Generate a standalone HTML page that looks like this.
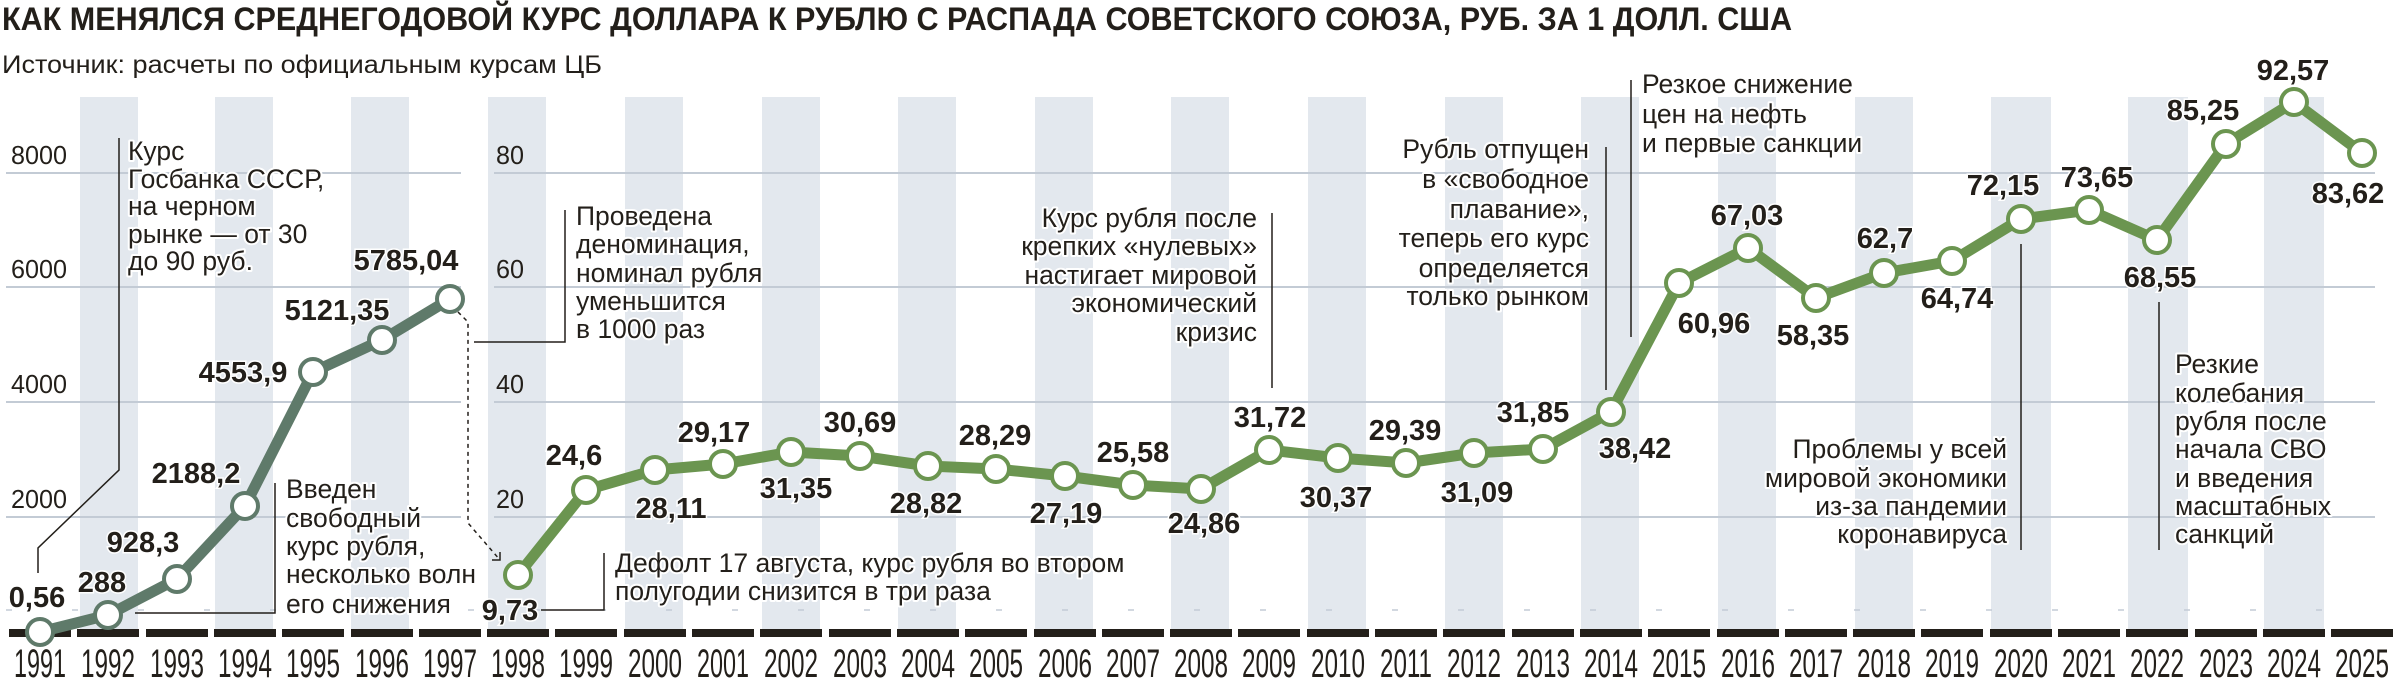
<!DOCTYPE html>
<html><head><meta charset="utf-8"><style>
html,body{margin:0;padding:0;background:#fff;}
svg{display:block;}
text{font-family:"Liberation Sans",sans-serif;fill:#231f1a;}
.ann{font-size:26.5px;paint-order:stroke;stroke:#fff;stroke-width:4px;stroke-linejoin:round;}
.val{font-size:29px;font-weight:bold;paint-order:stroke;stroke:#fff;stroke-width:3px;}
.yr{font-size:40px;}
.ax{font-size:26px;fill:#2a2a2a;}
</style></head><body>
<svg width="2401" height="679" viewBox="0 0 2401 679" xmlns="http://www.w3.org/2000/svg">
<text x="2" y="30" font-size="32" font-weight="bold" textLength="1790" lengthAdjust="spacingAndGlyphs">КАК МЕНЯЛСЯ СРЕДНЕГОДОВОЙ КУРС ДОЛЛАРА К РУБЛЮ С РАСПАДА СОВЕТСКОГО СОЮЗА, РУБ. ЗА 1 ДОЛЛ. США</text>
<text x="2" y="73" font-size="25" textLength="600" lengthAdjust="spacingAndGlyphs">Источник: расчеты по официальным курсам ЦБ</text>
<g fill="#e3e8ee">
<rect x="80" y="97" width="58" height="532"/><rect x="215" y="97" width="58" height="532"/><rect x="351" y="97" width="58" height="532"/><rect x="488" y="97" width="58" height="532"/><rect x="625" y="97" width="58" height="532"/><rect x="762" y="97" width="58" height="532"/><rect x="898" y="97" width="58" height="532"/><rect x="1035" y="97" width="58" height="532"/><rect x="1171" y="97" width="58" height="532"/><rect x="1308" y="97" width="58" height="532"/><rect x="1445" y="97" width="58" height="532"/><rect x="1581" y="97" width="58" height="532"/><rect x="1718" y="97" width="58" height="532"/><rect x="1855" y="97" width="58" height="532"/><rect x="1991" y="97" width="60" height="532"/><rect x="2128" y="97" width="60" height="532"/><rect x="2264" y="97" width="60" height="532"/>
</g>
<g stroke="#c3cbd5" stroke-width="2">
<line x1="6" y1="173" x2="461" y2="173"/><line x1="6" y1="287" x2="461" y2="287"/><line x1="6" y1="402" x2="461" y2="402"/><line x1="6" y1="517" x2="461" y2="517"/>
<line x1="494" y1="173" x2="2375" y2="173"/><line x1="494" y1="287" x2="2375" y2="287"/><line x1="494" y1="402" x2="2375" y2="402"/><line x1="494" y1="517" x2="2375" y2="517"/>
<line x1="6" y1="610" x2="2375" y2="610" stroke-dasharray="6 60" stroke-width="1.5"/>
</g>
<g class="ax">
<text x="11" y="164" textLength="56" lengthAdjust="spacingAndGlyphs">8000</text>
<text x="11" y="278" textLength="56" lengthAdjust="spacingAndGlyphs">6000</text>
<text x="11" y="393" textLength="56" lengthAdjust="spacingAndGlyphs">4000</text>
<text x="11" y="508" textLength="56" lengthAdjust="spacingAndGlyphs">2000</text>
<text x="496" y="164" textLength="28" lengthAdjust="spacingAndGlyphs">80</text>
<text x="496" y="278" textLength="28" lengthAdjust="spacingAndGlyphs">60</text>
<text x="496" y="393" textLength="28" lengthAdjust="spacingAndGlyphs">40</text>
<text x="496" y="508" textLength="28" lengthAdjust="spacingAndGlyphs">20</text>
</g>
<g stroke="#231f1a" stroke-width="1.5" fill="none">
<polyline points="119,138 119,470 38,548 38,573"/>
<polyline points="275,483 275,613 135,613"/>
<polyline points="565,210 565,342 474,342"/>
<polyline points="604,553 604,610 541,610"/>
<line x1="1272" y1="213" x2="1272" y2="388"/>
<line x1="1606" y1="147" x2="1606" y2="390"/>
<line x1="1631" y1="80" x2="1631" y2="337"/>
<line x1="2021" y1="244" x2="2021" y2="550"/>
<line x1="2159" y1="302" x2="2159" y2="550"/>
<polyline points="458,312 468,322 468,523 500,560" stroke-dasharray="4 4"/>
<polyline points="492,560 500,560 500,552"/>
</g>
<g fill="#231f1a">
<rect x="9" y="629" width="62" height="8"/><rect x="77" y="629" width="62" height="8"/><rect x="146" y="629" width="62" height="8"/><rect x="214" y="629" width="62" height="8"/><rect x="282" y="629" width="62" height="8"/><rect x="351" y="629" width="62" height="8"/><rect x="419" y="629" width="62" height="8"/><rect x="487" y="629" width="62" height="8"/><rect x="555" y="629" width="62" height="8"/><rect x="624" y="629" width="62" height="8"/><rect x="692" y="629" width="62" height="8"/><rect x="760" y="629" width="62" height="8"/><rect x="829" y="629" width="62" height="8"/><rect x="897" y="629" width="62" height="8"/><rect x="965" y="629" width="62" height="8"/><rect x="1034" y="629" width="62" height="8"/><rect x="1102" y="629" width="62" height="8"/><rect x="1170" y="629" width="62" height="8"/><rect x="1238" y="629" width="62" height="8"/><rect x="1307" y="629" width="62" height="8"/><rect x="1375" y="629" width="62" height="8"/><rect x="1443" y="629" width="62" height="8"/><rect x="1512" y="629" width="62" height="8"/><rect x="1580" y="629" width="62" height="8"/><rect x="1648" y="629" width="62" height="8"/><rect x="1717" y="629" width="62" height="8"/><rect x="1785" y="629" width="62" height="8"/><rect x="1853" y="629" width="62" height="8"/><rect x="1921" y="629" width="62" height="8"/><rect x="1990" y="629" width="62" height="8"/><rect x="2058" y="629" width="62" height="8"/><rect x="2126" y="629" width="62" height="8"/><rect x="2195" y="629" width="62" height="8"/><rect x="2263" y="629" width="62" height="8"/><rect x="2331" y="629" width="62" height="8"/>
</g>
<g class="yr" text-anchor="middle">
<text x="40" y="677" textLength="52" lengthAdjust="spacingAndGlyphs">1991</text><text x="108" y="677" textLength="54" lengthAdjust="spacingAndGlyphs">1992</text><text x="177" y="677" textLength="54" lengthAdjust="spacingAndGlyphs">1993</text><text x="245" y="677" textLength="54" lengthAdjust="spacingAndGlyphs">1994</text><text x="313" y="677" textLength="54" lengthAdjust="spacingAndGlyphs">1995</text><text x="382" y="677" textLength="54" lengthAdjust="spacingAndGlyphs">1996</text><text x="450" y="677" textLength="54" lengthAdjust="spacingAndGlyphs">1997</text><text x="518" y="677" textLength="54" lengthAdjust="spacingAndGlyphs">1998</text><text x="586" y="677" textLength="54" lengthAdjust="spacingAndGlyphs">1999</text><text x="655" y="677" textLength="54" lengthAdjust="spacingAndGlyphs">2000</text><text x="723" y="677" textLength="52" lengthAdjust="spacingAndGlyphs">2001</text><text x="791" y="677" textLength="54" lengthAdjust="spacingAndGlyphs">2002</text><text x="860" y="677" textLength="54" lengthAdjust="spacingAndGlyphs">2003</text><text x="928" y="677" textLength="54" lengthAdjust="spacingAndGlyphs">2004</text><text x="996" y="677" textLength="54" lengthAdjust="spacingAndGlyphs">2005</text><text x="1065" y="677" textLength="54" lengthAdjust="spacingAndGlyphs">2006</text><text x="1133" y="677" textLength="54" lengthAdjust="spacingAndGlyphs">2007</text><text x="1201" y="677" textLength="54" lengthAdjust="spacingAndGlyphs">2008</text><text x="1269" y="677" textLength="54" lengthAdjust="spacingAndGlyphs">2009</text><text x="1338" y="677" textLength="54" lengthAdjust="spacingAndGlyphs">2010</text><text x="1406" y="677" textLength="52" lengthAdjust="spacingAndGlyphs">2011</text><text x="1474" y="677" textLength="54" lengthAdjust="spacingAndGlyphs">2012</text><text x="1543" y="677" textLength="54" lengthAdjust="spacingAndGlyphs">2013</text><text x="1611" y="677" textLength="54" lengthAdjust="spacingAndGlyphs">2014</text><text x="1679" y="677" textLength="54" lengthAdjust="spacingAndGlyphs">2015</text><text x="1748" y="677" textLength="54" lengthAdjust="spacingAndGlyphs">2016</text><text x="1816" y="677" textLength="54" lengthAdjust="spacingAndGlyphs">2017</text><text x="1884" y="677" textLength="54" lengthAdjust="spacingAndGlyphs">2018</text><text x="1952" y="677" textLength="54" lengthAdjust="spacingAndGlyphs">2019</text><text x="2021" y="677" textLength="54" lengthAdjust="spacingAndGlyphs">2020</text><text x="2089" y="677" textLength="54" lengthAdjust="spacingAndGlyphs">2021</text><text x="2157" y="677" textLength="54" lengthAdjust="spacingAndGlyphs">2022</text><text x="2226" y="677" textLength="54" lengthAdjust="spacingAndGlyphs">2023</text><text x="2294" y="677" textLength="54" lengthAdjust="spacingAndGlyphs">2024</text><text x="2362" y="677" textLength="54" lengthAdjust="spacingAndGlyphs">2025</text>
</g>
<polyline fill="none" stroke="#5f7a6a" stroke-width="11" stroke-linejoin="round" points="40,632 108,615 177,579 245,506 313,372 382,340 450,299"/>
<polyline fill="none" stroke="#6b9550" stroke-width="11" stroke-linejoin="round" points="518,575 586,490 655,470 723,464 791,452 860,456 928,466 996,469 1065,476 1133,485 1201,489 1269,450 1338,458 1406,463 1474,453 1543,449 1611,412 1679,283 1748,248 1816,298 1884,273 1952,261 2021,219 2089,210 2157,240 2226,144 2294,102 2362,153"/>
<g fill="#fff" stroke="#5f7a6a" stroke-width="4">
<circle cx="40" cy="632" r="13"/><circle cx="108" cy="615" r="13"/><circle cx="177" cy="579" r="13"/><circle cx="245" cy="506" r="13"/><circle cx="313" cy="372" r="13"/><circle cx="382" cy="340" r="13"/><circle cx="450" cy="299" r="13"/>
</g>
<g fill="#fff" stroke="#6b9550" stroke-width="4">
<circle cx="518" cy="575" r="13"/><circle cx="586" cy="490" r="13"/><circle cx="655" cy="470" r="13"/><circle cx="723" cy="464" r="13"/><circle cx="791" cy="452" r="13"/><circle cx="860" cy="456" r="13"/><circle cx="928" cy="466" r="13"/><circle cx="996" cy="469" r="13"/><circle cx="1065" cy="476" r="13"/><circle cx="1133" cy="485" r="13"/><circle cx="1201" cy="489" r="13"/><circle cx="1269" cy="450" r="13"/><circle cx="1338" cy="458" r="13"/><circle cx="1406" cy="463" r="13"/><circle cx="1474" cy="453" r="13"/><circle cx="1543" cy="449" r="13"/><circle cx="1611" cy="412" r="13"/><circle cx="1679" cy="283" r="13"/><circle cx="1748" cy="248" r="13"/><circle cx="1816" cy="298" r="13"/><circle cx="1884" cy="273" r="13"/><circle cx="1952" cy="261" r="13"/><circle cx="2021" cy="219" r="13"/><circle cx="2089" cy="210" r="13"/><circle cx="2157" cy="240" r="13"/><circle cx="2226" cy="144" r="13"/><circle cx="2294" cy="102" r="13"/><circle cx="2362" cy="153" r="13"/>
</g>
<g class="val" text-anchor="middle">
<text x="37" y="607">0,56</text><text x="102" y="592">288</text><text x="143" y="552">928,3</text><text x="196" y="483">2188,2</text><text x="243" y="382">4553,9</text><text x="337" y="320">5121,35</text><text x="406" y="270">5785,04</text>
<text x="510" y="620">9,73</text><text x="574" y="465">24,6</text><text x="671" y="518">28,11</text><text x="714" y="442">29,17</text><text x="796" y="498">31,35</text><text x="860" y="432">30,69</text><text x="926" y="513">28,82</text><text x="995" y="445">28,29</text><text x="1066" y="523">27,19</text><text x="1133" y="462">25,58</text><text x="1204" y="533">24,86</text><text x="1270" y="427">31,72</text><text x="1336" y="507">30,37</text><text x="1405" y="440">29,39</text><text x="1477" y="502">31,09</text><text x="1533" y="422">31,85</text><text x="1635" y="458">38,42</text><text x="1714" y="333">60,96</text><text x="1747" y="225">67,03</text><text x="1813" y="345">58,35</text><text x="1885" y="248">62,7</text><text x="1957" y="308">64,74</text><text x="2003" y="195">72,15</text><text x="2097" y="187">73,65</text><text x="2160" y="287">68,55</text><text x="2203" y="120">85,25</text><text x="2293" y="80">92,57</text><text x="2348" y="203">83,62</text>
</g>
<g class="ann">
<text x="128" y="160">Курс</text><text x="128" y="188">Госбанка СССР,</text><text x="128" y="215">на черном</text><text x="128" y="243">рынке — от 30</text><text x="128" y="270">до 90 руб.</text>
<text x="286" y="498">Введен</text><text x="286" y="527">свободный</text><text x="286" y="555">курс рубля,</text><text x="286" y="583">несколько волн</text><text x="286" y="613">его снижения</text>
<text x="576" y="225">Проведена</text><text x="576" y="253">деноминация,</text><text x="576" y="282">номинал рубля</text><text x="576" y="310">уменьшится</text><text x="576" y="338">в 1000 раз</text>
<text x="615" y="572">Дефолт 17 августа, курс рубля во втором</text><text x="615" y="600">полугодии снизится в три раза</text>
</g>
<g class="ann" text-anchor="end">
<text x="1257" y="227">Курс рубля после</text><text x="1257" y="255">крепких «нулевых»</text><text x="1257" y="284">настигает мировой</text><text x="1257" y="312">экономический</text><text x="1257" y="341">кризис</text>
<text x="1589" y="158">Рубль отпущен</text><text x="1589" y="188">в «свободное</text><text x="1589" y="218">плавание»,</text><text x="1589" y="247">теперь его курс</text><text x="1589" y="277">определяется</text><text x="1589" y="305">только рынком</text>
<text x="2007" y="458">Проблемы у всей</text><text x="2007" y="487">мировой экономики</text><text x="2007" y="515">из-за пандемии</text><text x="2007" y="543">коронавируса</text>
</g>
<g class="ann">
<text x="1642" y="93">Резкое снижение</text><text x="1642" y="123">цен на нефть</text><text x="1642" y="152">и первые санкции</text>
<text x="2175" y="373">Резкие</text><text x="2175" y="402">колебания</text><text x="2175" y="430">рубля после</text><text x="2175" y="458">начала СВО</text><text x="2175" y="487">и введения</text><text x="2175" y="515">масштабных</text><text x="2175" y="543">санкций</text>
</g>
</svg>
</body></html>
